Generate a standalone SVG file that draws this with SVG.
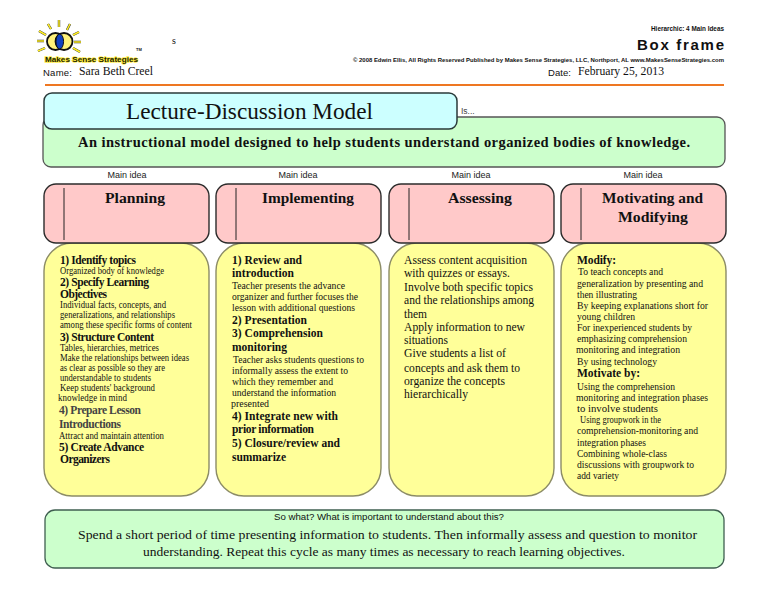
<svg xmlns="http://www.w3.org/2000/svg" width="768" height="594" viewBox="0 0 768 594">
<style>
text{font-family:"Liberation Serif","Times New Roman",serif;fill:#111}
.sans{font-family:"Liberation Sans",Arial,sans-serif}
.b{font-weight:bold}
.s{font-size:9.5px}
.m{font-size:12px}
.h{font-size:11.5px;font-weight:bold}
.i{font-size:9px;text-anchor:middle;font-family:"Liberation Sans",Arial,sans-serif;fill:#222}
.hd{font-size:15px;font-weight:bold;text-anchor:middle}
.pink{fill:#ffc9c9;stroke:#2b2b2b;stroke-width:1.4}
.yel{fill:#ffff99;stroke:#8c8c66;stroke-width:1.4}
.grn{fill:#ccffcc;stroke:#555;stroke-width:1.3}
.div{stroke:#222;stroke-width:1;fill:none}
.ray{stroke:#333;stroke-width:2.4;fill:none}
.ray2{stroke:#ffee22;stroke-width:1.5;fill:none}
</style>
<g id="logo">
<g>
<path class="ray" d="M59 20V27M48 24L51 29M70 24L67 30M39 31L46 35M79 32L73 35M37 41H44M74 42H81M38 51L45 48M73 48L80 52"/>
<path class="ray2" d="M59 20V27M48 24L51 29M70 24L67 30M39 31L46 35M79 32L73 35M37 41H44M74 42H81M38 51L45 48M73 48L80 52"/>
</g>
<circle cx="55.500" cy="41.500" r="8.500" fill="#fff27a" stroke="#111" stroke-width="1.800"/>
<circle cx="64" cy="41.500" r="8.500" fill="#fff27a" stroke="#111" stroke-width="1.800"/>
<ellipse cx="59.750" cy="41.500" rx="3.800" ry="7.500" fill="#1040c0" stroke="#111" stroke-width="1"/>
<text x="136" y="51" class="sans b" font-size="4">TM</text>
<text x="45" y="62" class="sans b" font-size="8" textLength="93" lengthAdjust="spacingAndGlyphs" stroke="#ffee44" stroke-width="1.500" paint-order="stroke" style="fill:#222200">Makes Sense Strategies</text>
</g>
<g id="header">
<text x="172" y="44" font-size="10">s</text>
<text x="43" y="76" class="sans" font-size="9.500" textLength="29">Name:</text>
<text x="79" y="75" class="m" textLength="74" lengthAdjust="spacingAndGlyphs">Sara Beth Creel</text>
<text x="651" y="31" class="sans b" font-size="6.500" textLength="73" lengthAdjust="spacingAndGlyphs">Hierarchic: 4 Main Ideas</text>
<text x="637" y="50" class="sans b" font-size="15" textLength="87">Box frame</text>
<text x="353" y="62" class="sans b" font-size="5" textLength="371" lengthAdjust="spacingAndGlyphs">© 2008 Edwin Ellis, All Rights Reserved   Published by Makes Sense Strategies, LLC, Northport, AL   www.MakesSenseStrategies.com</text>
<text x="548" y="76" class="sans" font-size="9.500" textLength="23">Date:</text>
<text x="578" y="75" class="m" textLength="86" lengthAdjust="spacingAndGlyphs">February 25, 2013</text>
<line x1="45" y1="85" x2="724" y2="85" stroke="#ee7722" stroke-width="2"/>
</g>
<g id="definition">
<rect class="grn" x="43" y="117" width="682" height="50" rx="8"/>
<text x="461" y="114" class="sans" font-size="8.500" style="fill:#444">Is...</text>
<text x="78" y="147" font-size="14.500" class="b" textLength="612" lengthAdjust="spacing">An instructional model designed to help students understand organized bodies of knowledge.</text>
</g>
<g id="title">
<rect x="44" y="93" width="413" height="36" rx="8" fill="#ccffff" stroke="#2a3a3a" stroke-width="1.500"/>
<text x="126" y="119" font-size="23" textLength="247" lengthAdjust="spacingAndGlyphs">Lecture-Discussion Model</text>
</g>
<g id="connectors"></g>
<g id="col1">
<text class="i" x="127" y="178">Main idea</text>
<rect class="yel" x="44" y="243" width="165" height="253" rx="28"/>
<rect class="pink" x="44" y="184" width="165" height="59" rx="12"/>
<line class="div" x1="64" y1="188" x2="64" y2="240"/>
<text class="hd" x="135" y="203" textLength="60" lengthAdjust="spacingAndGlyphs">Planning</text>
<g>
<text class="h" x="60" y="264" textLength="76">1) Identify topics</text>
<text class="s" x="60" y="274" textLength="104" lengthAdjust="spacingAndGlyphs">Organized body of knowledge</text>
<text class="h" x="60" y="286" textLength="89">2) Specify Learning</text>
<text class="h" x="60" y="298" textLength="47">Objectives</text>
<text class="s" x="60" y="308" textLength="106" lengthAdjust="spacingAndGlyphs">Individual facts, concepts, and</text>
<text class="s" x="60" y="318" textLength="115" lengthAdjust="spacingAndGlyphs">generalizations, and relationships</text>
<text class="s" x="60" y="328" textLength="132" lengthAdjust="spacingAndGlyphs">among these specific forms of content</text>
<text class="h" x="60" y="341" textLength="94">3) Structure Content</text>
<text class="s" x="60" y="351" textLength="99" lengthAdjust="spacingAndGlyphs">Tables, hierarchies, metrices</text>
<text class="s" x="60" y="361" textLength="129" lengthAdjust="spacingAndGlyphs">Make the relationships between ideas</text>
<text class="s" x="60" y="371" textLength="105" lengthAdjust="spacingAndGlyphs">as clear as possible so they are</text>
<text class="s" x="60" y="381" textLength="91" lengthAdjust="spacingAndGlyphs">understandable to students</text>
<text class="s" x="60" y="391" textLength="95" lengthAdjust="spacingAndGlyphs">Keep students' background</text>
<text class="s" x="58" y="401" textLength="69" lengthAdjust="spacingAndGlyphs">knowledge in mind</text>
<text class="h" x="59" y="414" textLength="82" style="fill:#444">4) Prepare Lesson</text>
<text class="h" x="59" y="428" textLength="62" style="fill:#444">Introductions</text>
<text class="s" x="59" y="439" textLength="105" lengthAdjust="spacingAndGlyphs">Attract and maintain attention</text>
<text class="h" x="59" y="451" textLength="85">5) Create Advance</text>
<text class="h" x="60" y="463" textLength="50">Organizers</text>
</g>
</g>
<g id="col2">
<text class="i" x="298" y="178">Main idea</text>
<rect class="yel" x="216" y="243" width="165" height="253" rx="28"/>
<rect class="pink" x="216" y="184" width="165" height="59" rx="12"/>
<line class="div" x1="236" y1="188" x2="236" y2="240"/>
<text class="hd" x="308" y="203" textLength="92" lengthAdjust="spacingAndGlyphs">Implementing</text>
<g>
<text class="h" x="232" y="264" textLength="70">1) Review and</text>
<text class="h" x="232" y="277" textLength="62">introduction</text>
<text class="s" x="232" y="289" textLength="113" lengthAdjust="spacingAndGlyphs">Teacher presents the advance</text>
<text class="s" x="232" y="300" textLength="126" lengthAdjust="spacingAndGlyphs">organizer and further focuses the</text>
<text class="s" x="232" y="311" textLength="123" lengthAdjust="spacingAndGlyphs">lesson with additional questions</text>
<text class="h" x="232" y="324" textLength="75">2) Presentation</text>
<text class="h" x="232" y="337" textLength="91">3) Comprehension</text>
<text class="h" x="232" y="351" textLength="55">monitoring</text>
<text class="s" x="233" y="363" textLength="131" lengthAdjust="spacingAndGlyphs">Teacher asks students questions to</text>
<text class="s" x="232" y="374" textLength="116" lengthAdjust="spacingAndGlyphs">informally assess the extent to</text>
<text class="s" x="232" y="385" textLength="101" lengthAdjust="spacingAndGlyphs">which they remember and</text>
<text class="s" x="232" y="396" textLength="104" lengthAdjust="spacingAndGlyphs">understand the information</text>
<text class="s" x="231" y="407" textLength="38" lengthAdjust="spacingAndGlyphs">presented</text>
<text class="h" x="232" y="420" textLength="106">4) Integrate new with</text>
<text class="h" x="232" y="433" textLength="82">prior information</text>
<text class="h" x="232" y="447" textLength="108">5) Closure/review and</text>
<text class="h" x="232" y="461" textLength="54">summarize</text>
</g>
</g>
<g id="col3">
<text class="i" x="471" y="178">Main idea</text>
<rect class="yel" x="389" y="243" width="165" height="253" rx="28"/>
<rect class="pink" x="389" y="184" width="165" height="59" rx="12"/>
<line class="div" x1="409" y1="188" x2="409" y2="240"/>
<text class="hd" x="480" y="203" textLength="64" lengthAdjust="spacingAndGlyphs">Assessing</text>
<g>
<text class="m" x="404" y="264" textLength="123" lengthAdjust="spacingAndGlyphs">Assess content acquisition</text>
<text class="m" x="404" y="277" textLength="106" lengthAdjust="spacingAndGlyphs">with quizzes or essays.</text>
<text class="m" x="404" y="291" textLength="129" lengthAdjust="spacingAndGlyphs">Involve both specific topics</text>
<text class="m" x="404" y="304" textLength="130" lengthAdjust="spacingAndGlyphs">and the relationships among</text>
<text class="m" x="404" y="318" textLength="23" lengthAdjust="spacingAndGlyphs">them</text>
<text class="m" x="404" y="331" textLength="121" lengthAdjust="spacingAndGlyphs">Apply information to new</text>
<text class="m" x="404" y="344" textLength="44" lengthAdjust="spacingAndGlyphs">situations</text>
<text class="m" x="404" y="357" textLength="102" lengthAdjust="spacingAndGlyphs">Give students a list of</text>
<text class="m" x="404" y="372" textLength="116" lengthAdjust="spacingAndGlyphs">concepts and ask them to</text>
<text class="m" x="404" y="385" textLength="101" lengthAdjust="spacingAndGlyphs">organize the concepts</text>
<text class="m" x="404" y="398" textLength="64" lengthAdjust="spacingAndGlyphs">hierarchically</text>
</g>
</g>
<g id="col4">
<text class="i" x="643" y="178">Main idea</text>
<rect class="yel" x="561" y="243" width="165" height="253" rx="28"/>
<rect class="pink" x="561" y="184" width="165" height="59" rx="12"/>
<line class="div" x1="581" y1="188" x2="581" y2="240"/>
<text class="hd" x="652.500" y="203" textLength="101" lengthAdjust="spacingAndGlyphs">Motivating and</text>
<text class="hd" x="653" y="222" textLength="70" lengthAdjust="spacingAndGlyphs">Modifying</text>
<g>
<text class="h" x="577" y="264" textLength="39">Modify:</text>
<text class="s" x="578" y="275" textLength="85" lengthAdjust="spacingAndGlyphs">To teach concepts and</text>
<text class="s" x="577" y="287" textLength="126" lengthAdjust="spacingAndGlyphs">generalization by presenting and</text>
<text class="s" x="577" y="298" textLength="60" lengthAdjust="spacingAndGlyphs">then illustrating</text>
<text class="s" x="577" y="309" textLength="131" lengthAdjust="spacingAndGlyphs">By keeping explanations short for</text>
<text class="s" x="577" y="320" textLength="58" lengthAdjust="spacingAndGlyphs">young children</text>
<text class="s" x="577" y="331" textLength="115" lengthAdjust="spacingAndGlyphs">For inexperienced students by</text>
<text class="s" x="577" y="342" textLength="110" lengthAdjust="spacingAndGlyphs">emphasizing comprehension</text>
<text class="s" x="576" y="353" textLength="104" lengthAdjust="spacingAndGlyphs">monitoring and integration</text>
<text class="s" x="577" y="365" textLength="80" lengthAdjust="spacingAndGlyphs">By using technology</text>
<text class="h" x="577" y="377" textLength="63">Motivate by:</text>
<text class="s" x="577" y="390" textLength="98" lengthAdjust="spacingAndGlyphs">Using the comprehension</text>
<text class="s" x="576" y="401" textLength="132" lengthAdjust="spacingAndGlyphs">monitoring and integration phases</text>
<text class="s" x="577" y="412" textLength="81" lengthAdjust="spacingAndGlyphs">to involve students</text>
<text class="s" x="580" y="423" textLength="81" lengthAdjust="spacingAndGlyphs">Using groupwork in the</text>
<text class="s" x="577" y="434" textLength="121" lengthAdjust="spacingAndGlyphs">comprehension-monitoring and</text>
<text class="s" x="577" y="446" textLength="69" lengthAdjust="spacingAndGlyphs">integration phases</text>
<text class="s" x="577" y="457" textLength="90" lengthAdjust="spacingAndGlyphs">Combining whole-class</text>
<text class="s" x="577" y="468" textLength="117" lengthAdjust="spacingAndGlyphs">discussions with groupwork to</text>
<text class="s" x="577" y="479" textLength="42" lengthAdjust="spacingAndGlyphs">add variety</text>
</g>
</g>
<g id="sowhat">
<rect x="45" y="510" width="679" height="58" rx="10" fill="#ccffcc" stroke="#3f5f50" stroke-width="1.300"/>
<text x="274" y="520" class="sans" font-size="8.500" textLength="230" lengthAdjust="spacingAndGlyphs">So what? What is important to understand about this?</text>
<text x="78" y="539" font-size="13.500" textLength="619" lengthAdjust="spacingAndGlyphs">Spend a short period of time presenting information to students. Then informally assess and question to monitor</text>
<text x="143" y="556" font-size="13.500" textLength="482" lengthAdjust="spacingAndGlyphs">understanding. Repeat this cycle as many times as necessary to reach learning objectives.</text>
</g>
</svg>
